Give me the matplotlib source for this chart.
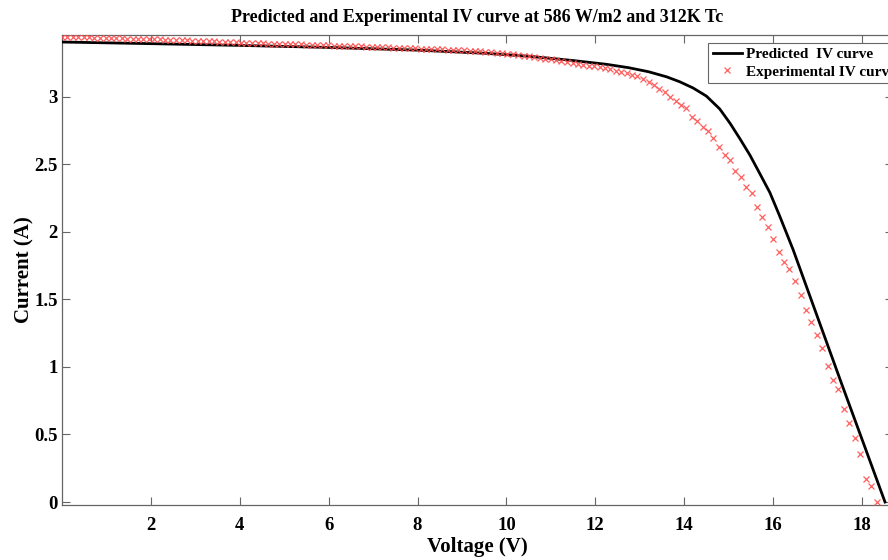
import matplotlib
matplotlib.use("Agg")
import matplotlib.pyplot as plt

# Experimental IV points (voltage V, current A)
exp_voltage = [
    0.00, 0.12, 0.24, 0.37, 0.49, 0.61, 0.73, 0.86, 0.98, 1.10, 1.22, 1.34, 1.47, 1.59, 1.71, 1.83, 1.96,
    2.08, 2.20, 2.32, 2.44, 2.57, 2.69, 2.81, 2.93, 3.06, 3.18, 3.30, 3.42, 3.54, 3.67, 3.79, 3.91,
    4.03, 4.15, 4.28, 4.40, 4.52, 4.64, 4.77, 4.89, 5.01, 5.13, 5.25, 5.38, 5.50, 5.62, 5.74, 5.87, 5.99,
    6.11, 6.23, 6.35, 6.48, 6.60, 6.72, 6.84, 6.97, 7.09, 7.21, 7.33, 7.45, 7.58, 7.70, 7.82, 7.94,
    8.07, 8.19, 8.31, 8.43, 8.55, 8.68, 8.80, 8.92, 9.04, 9.17, 9.29, 9.41, 9.53, 9.65, 9.78, 9.90,
    10.02, 10.14, 10.26, 10.39, 10.51, 10.63, 10.75, 10.88, 11.00, 11.12, 11.24, 11.36, 11.49, 11.61, 11.73, 11.85, 11.98, 12.10,
    12.22, 12.34, 12.46, 12.59, 12.71, 12.83, 12.95, 13.08, 13.20, 13.32,
    13.44, 13.56, 13.69, 13.81, 13.93, 14.05, 14.18, 14.30, 14.42, 14.54, 14.66, 14.79, 14.91, 15.03,
    15.15, 15.28, 15.40, 15.52, 15.64, 15.76, 15.89, 16.01, 16.13, 16.25, 16.37, 16.50, 16.62, 16.74,
    16.86, 16.99, 17.11, 17.23, 17.35, 17.47, 17.60, 17.72, 17.84, 17.96, 18.09, 18.21, 18.33,
]
exp_current = [
    3.445, 3.444, 3.443, 3.442, 3.440, 3.440, 3.438, 3.437, 3.436, 3.435, 3.434, 3.432, 3.431, 3.430, 3.429, 3.428, 3.426,
    3.425, 3.424, 3.422, 3.421, 3.420, 3.418, 3.417, 3.416, 3.414, 3.413, 3.411, 3.410, 3.408, 3.406, 3.405, 3.403,
    3.400, 3.399, 3.398, 3.397, 3.396, 3.394, 3.393, 3.392, 3.391, 3.390, 3.389, 3.388, 3.386, 3.385, 3.384, 3.382, 3.380,
    3.378, 3.377, 3.376, 3.375, 3.373, 3.372, 3.371, 3.370, 3.368, 3.367, 3.366, 3.364, 3.363, 3.362, 3.360, 3.358,
    3.356, 3.355, 3.353, 3.352, 3.350, 3.348, 3.347, 3.345, 3.343, 3.341, 3.338, 3.336, 3.333, 3.330, 3.327, 3.323,
    3.318, 3.314, 3.310, 3.305, 3.300, 3.295, 3.289, 3.283, 3.277, 3.270, 3.264, 3.258, 3.251, 3.245, 3.238, 3.231, 3.224, 3.217,
    3.210, 3.202, 3.194, 3.184, 3.174, 3.163, 3.150, 3.132, 3.112, 3.088,
    3.060, 3.035, 3.000, 2.965, 2.940, 2.914, 2.848, 2.822, 2.775, 2.748, 2.697, 2.625, 2.571, 2.531,
    2.450, 2.403, 2.334, 2.289, 2.181, 2.107, 2.038, 1.947, 1.853, 1.779, 1.722, 1.634, 1.530, 1.419,
    1.332, 1.238, 1.138, 1.009, 0.905, 0.836, 0.688, 0.587, 0.476, 0.355, 0.168, 0.118, 0.000,
]

# Predicted IV curve
pred_voltage = [0.0, 2.0, 4.0, 6.0, 8.0, 9.5, 10.5, 11.5, 12.25, 12.75, 13.2, 13.6, 13.9, 14.2,
                14.5, 14.8, 15.03, 15.25, 15.48, 15.7, 15.93, 16.14, 16.45, 17.0, 17.54, 18.0, 18.52]
pred_current = [3.405, 3.393, 3.380, 3.365, 3.345, 3.322, 3.300, 3.268, 3.240, 3.215, 3.185, 3.148, 3.111, 3.065,
                3.005, 2.910, 2.805, 2.692, 2.568, 2.433, 2.290, 2.125, 1.870, 1.370, 0.879, 0.467, 0.0]

x_ticks = [2, 4, 6, 8, 10, 12, 14, 16, 18]
y_ticks = [0, 0.5, 1, 1.5, 2, 2.5, 3]
y_tick_labels = ["0", "0.5", "1", "1.5", "2", "2.5", "3"]

plt.rcParams["font.family"] = ["Liberation Serif", "DejaVu Serif"]
plt.rcParams["font.weight"] = "bold"

fig = plt.figure(figsize=(8.88, 5.6), dpi=100)
ax = fig.add_axes([62 / 888, 55 / 560, 831 / 888, 470 / 560])

n = min(len(exp_voltage), len(exp_current))
ax.plot(pred_voltage, pred_current, color="black", lw=2.0, label="Predicted  IV curve",
        zorder=3, solid_joinstyle="round")
ax.plot(exp_voltage[:n], exp_current[:n], linestyle="none", marker="x", markersize=4.4,
        markeredgewidth=0.9, color=(1.0, 0.3, 0.3), alpha=0.9,
        label="Experimental IV curve", zorder=4)

ax.set_xlim(0.0, 18.7)
ax.set_ylim(-0.022, 3.457)
ax.set_xticks(x_ticks)
ax.set_xticklabels([str(t) for t in x_ticks])
ax.set_yticks(y_ticks)
ax.set_yticklabels(y_tick_labels)

gray = (0.4, 0.4, 0.4)
for s in ax.spines.values():
    s.set_color(gray)
    s.set_linewidth(0.9)
ax.tick_params(direction="in", length=6, width=0.8, color=gray, labelsize=13.5,
               top=True, right=True)
ax.tick_params(axis="x", pad=9)
ax.tick_params(axis="y", pad=3)
for lab in ax.get_xticklabels() + ax.get_yticklabels():
    lab.set_fontweight("bold")

ax.set_title("Predicted and Experimental IV curve at 586 W/m2 and 312K Tc",
             fontsize=13, fontweight="bold", pad=9)
ax.set_xlabel("Voltage (V)", fontsize=15, fontweight="bold", labelpad=2)
ax.set_ylabel("Current (A)", fontsize=15, fontweight="bold", labelpad=0)

leg = ax.legend(loc="upper left", bbox_to_anchor=((708 - 62) / 831, (505 - 43) / 470),
                fancybox=False, framealpha=1, edgecolor=gray, fontsize=11,
                borderpad=0.3, handlelength=1.9, handletextpad=0.3, labelspacing=0.25,
                borderaxespad=0)
leg.get_frame().set_linewidth(0.8)
for t in leg.get_texts():
    t.set_fontweight("bold")

fig.savefig("out.png", dpi=100)
